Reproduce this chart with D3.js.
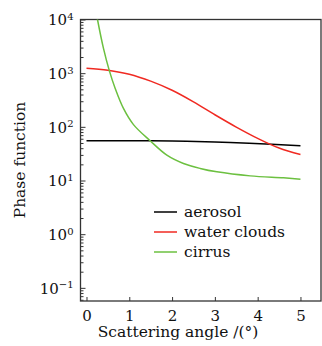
<!DOCTYPE html>
<html>
<head>
<meta charset="utf-8">
<script src="https://cdn.jsdelivr.net/npm/d3@7"></script>
<style>
  body { margin: 0; background: #fff; }
  svg { display: block; font-family: "DejaVu Serif", serif; }
  .tick text { font-family: "DejaVu Serif", serif; }
</style>
</head>
<body>
<script>
// data
var aerosolX = [0, 1, 2, 3, 3.8, 5];
var aerosolY = [55, 55, 54.3, 52, 49.5, 44.3];

var waterX = [0, 0.5, 1, 1.5, 2, 2.5, 3, 3.5, 4, 4.5, 5];
var waterY = [1240, 1135, 955, 710, 480, 292, 168, 99, 61, 40.3, 30.5];

var cirrusX = [0.15, 0.257, 0.397, 0.53, 0.671, 0.864, 1.098, 1.488, 1.878, 2.266, 2.657, 3.047, 3.825, 4.603, 5];
var cirrusY = [30000, 10000, 2890, 1140, 519, 220, 110, 55, 29.7, 20.8, 16.8, 14.5, 12.2, 11.2, 10.6];

var seriesNames = ['aerosol', 'water clouds', 'cirrus'];
var seriesColors = ['#000000', '#f02a22', '#6cc040'];

var xTicks = [0, 1, 2, 3, 4, 5];
var yExponents = [-1, 0, 1, 2, 3, 4];

var svgWidth = 322, svgHeight = 346;
var plotLeft = 80.5, plotRight = 321, plotTop = 19.5, plotBottom = 301;

var xScale = d3.scaleLinear()
    .domain([-0.14, 5.48])
    .range([plotLeft, plotRight]);

var yScale = d3.scaleLog()
    .domain([Math.pow(10, -1.245), 1e4])
    .range([plotBottom, plotTop]);

var svg = d3.select('body')
    .append('svg')
    .attr('width', svgWidth)
    .attr('height', svgHeight);

svg.append('defs').append('clipPath')
    .attr('id', 'plot')
    .append('rect')
    .attr('x', plotLeft)
    .attr('y', plotTop)
    .attr('width', plotRight - plotLeft)
    .attr('height', plotBottom - plotTop);

// minor ticks on the log axis
var minor = [];
for (var e = -2; e <= 3; e++) {
    for (var m = 2; m <= 9; m++) {
        var v = m * Math.pow(10, e);
        if (v >= yScale.domain()[0] && v <= 1e4) minor.push(v);
    }
}

var yMinor = d3.axisLeft(yScale).tickValues(minor).tickSize(-3).tickFormat('');
var yMajor = d3.axisLeft(yScale)
    .tickValues(yExponents.map(function(d) { return Math.pow(10, d); }))
    .tickSize(-5)
    .tickFormat('');

svg.append('g')
    .attr('class', 'y axis minor')
    .attr('transform', `translate(${plotLeft}, 0)`)
    .call(yMinor);

var gy = svg.append('g')
    .attr('class', 'y axis')
    .attr('transform', `translate(${plotLeft}, 0)`)
    .call(yMajor);

gy.selectAll('.tick text').remove();
gy.selectAll('.tick').each(function(d) {
    var t = d3.select(this).append('text')
        .attr('x', -7)
        .attr('dy', '0.36em')
        .attr('fill', '#111')
        .attr('text-anchor', 'end')
        .style('font-size', '15px');
    t.append('tspan').text('10');
    t.append('tspan')
        .attr('dy', '-0.55em')
        .style('font-size', '10px')
        .text(Math.round(Math.log10(d)) < 0 ? '\u22121' : Math.round(Math.log10(d)));
});

var xAxis = d3.axisBottom(xScale)
    .tickValues(xTicks)
    .tickFormat(d3.format('d'))
    .tickSize(-4)
    .tickPadding(9);
var gx = svg.append('g')
    .attr('class', 'x axis')
    .attr('transform', `translate(0, ${plotBottom})`)
    .call(xAxis);
gx.selectAll('.tick text')
    .attr('fill', '#111')
    .style('font-size', '15px');

svg.selectAll('.axis .domain').remove();
svg.selectAll('.axis line').attr('stroke', '#333').attr('stroke-width', 1);

// frame
svg.append('rect')
    .attr('x', plotLeft)
    .attr('y', plotTop)
    .attr('width', plotRight - plotLeft)
    .attr('height', plotBottom - plotTop)
    .attr('fill', 'none')
    .attr('stroke', '#333')
    .attr('stroke-width', 1.3);

var line = d3.line()
    .x(function(d) { return xScale(d[0]); })
    .y(function(d) { return yScale(d[1]); })
    .curve(d3.curveCatmullRom.alpha(0.5));

var series = [
    d3.zip(aerosolX, aerosolY),
    d3.zip(waterX, waterY),
    d3.zip(cirrusX, cirrusY)
];

svg.append('g')
    .attr('clip-path', 'url(#plot)')
    .selectAll('path')
    .data(series)
    .enter()
    .append('path')
    .attr('d', line)
    .attr('fill', 'none')
    .attr('stroke', function(d, i) { return seriesColors[i]; })
    .attr('stroke-width', 1.5);

// legend
var legend = svg.append('g')
    .attr('transform', 'translate(154, 212)');

seriesNames.forEach(function(name, i) {
    legend.append('line')
        .attr('x1', 0)
        .attr('x2', 23)
        .attr('y1', i * 20)
        .attr('y2', i * 20)
        .attr('stroke', seriesColors[i])
        .attr('stroke-width', 1.5);
    legend.append('text')
        .attr('x', 30)
        .attr('y', i * 20 + 5)
        .attr('fill', '#111')
        .style('font-size', '15.5px')
        .text(name);
});

// axis titles
svg.append('text')
    .attr('x', 178)
    .attr('y', 337)
    .attr('text-anchor', 'middle')
    .attr('fill', '#111')
    .style('font-size', '15.5px')
    .text('Scattering angle /(°)');

svg.append('text')
    .attr('transform', 'translate(25, 160) rotate(-90)')
    .attr('text-anchor', 'middle')
    .attr('fill', '#111')
    .style('font-size', '15.5px')
    .text('Phase function');
</script>
</body>
</html>
